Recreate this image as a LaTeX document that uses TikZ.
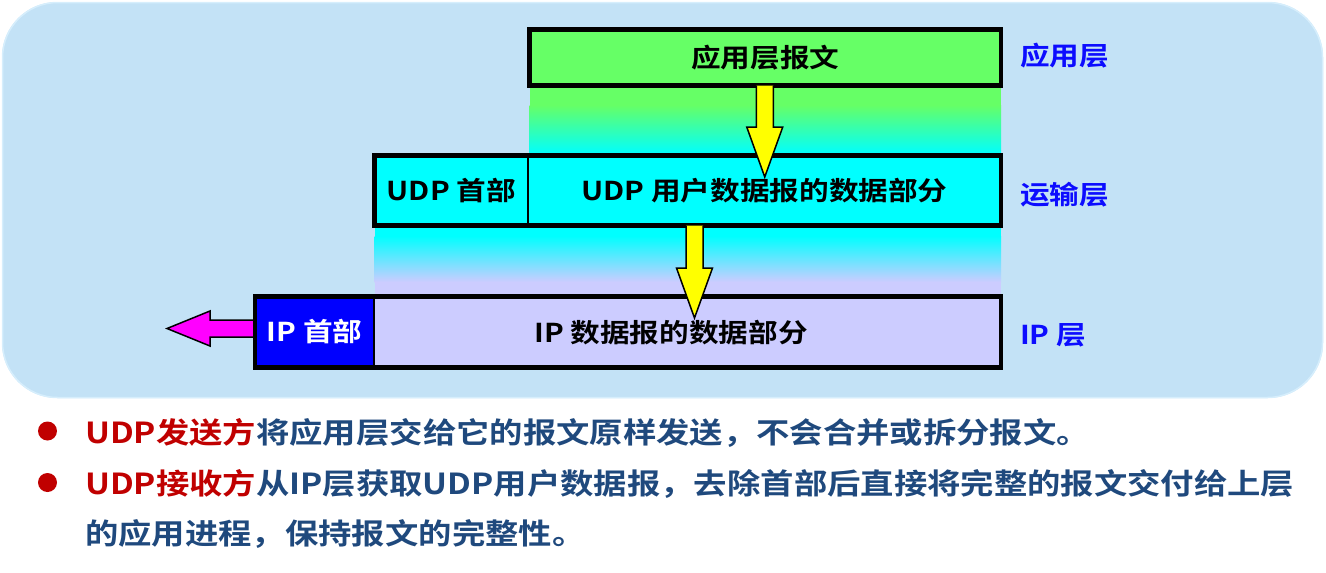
\documentclass[tikz,border=0pt]{standalone}
\usepackage{fontspec}
\usetikzlibrary{calc}
\newfontfamily\boxfont{Noto Sans CJK SC Bold}[FakeStretch=1.14]
\newfontfamily\notefont{Noto Sans CJK SC Bold}[FakeStretch=1.15]

\definecolor{bgblue}{RGB}{195,226,246}
\definecolor{bgedge}{RGB}{214,238,252}
\definecolor{appgreen}{RGB}{102,255,102}
\definecolor{udpcyan}{RGB}{0,255,255}
\definecolor{iplav}{RGB}{204,204,255}
\definecolor{iphblue}{RGB}{0,0,255}
\definecolor{layerblue}{RGB}{12,12,255}
\definecolor{notered}{RGB}{192,0,0}
\definecolor{noteblue}{RGB}{31,73,125}
\definecolor{arrowyellow}{RGB}{255,255,0}
\definecolor{arrowmagenta}{RGB}{255,0,255}

% solid arrow pointing down: #1 top of shaft, #2 tip, #3 fill
\newcommand\fatdown[3]{%
  \draw[fatarrow, fill=#3]
    ($(#1)+(-8.5,0)$) -- ($(#2)+(-8.5,-50)$) -- ($(#2)+(-18,-50)$) -- (#2)
    -- ($(#2)+(18,-50)$) -- ($(#2)+(8.5,-50)$) -- ($(#1)+(8.5,0)$);}

\begin{document}
\begin{tikzpicture}[x=1pt,y=-1pt,
  box/.style={draw=black, line width=1.8, inner sep=0, outer sep=0,
    font=\boxfont\fontsize{26}{30}\selectfont},
  frame/.style={draw=black, line width=4.5},
  layer/.style={anchor=west, inner sep=0, text=layerblue,
    font=\boxfont\fontsize{26}{30}\selectfont},
  note/.style={anchor=west, inner sep=0, text=noteblue,
    font=\notefont\fontsize{29}{33}\selectfont},
  bullet/.style={circle, fill=notered, inner sep=0, minimum size=19},
  fatarrow/.style={draw=black, line width=1.5, line join=miter}]
\useasboundingbox (0,0) rectangle (1326,573);

% background panel
\fill[bgblue, rounded corners=55] (2,2) rectangle (1323,398);
\draw[bgedge, line width=1.5, rounded corners=55] (2.5,2.5) rectangle (1322.5,397.5);

% colour bands between the layers
\fill[appgreen] (529.5,87) rectangle (1001,105);
\shade[top color=appgreen, bottom color=udpcyan] (529.5,105) rectangle (1001,154);
\fill[udpcyan] (374.5,227) rectangle (1001,236);
\shade[top color=udpcyan, bottom color=iplav] (374.5,236) rectangle (1001,282);
\fill[iplav] (374.5,282) rectangle (1001,295);

% application layer
\node[box, line width=4.5, fill=appgreen, minimum width=471.5, minimum height=56]
  (app) at (765.25,57.5) {应用层报文};

% transport layer
\node[box, fill=udpcyan, minimum width=153.5, minimum height=70]
  (udph) at (451.25,190.5) {UDP 首部};
\node[box, fill=udpcyan, minimum width=473, minimum height=70]
  (udpd) at (764.5,190.5) {UDP 用户数据报的数据部分};
\draw[frame] (udph.north west) rectangle (udpd.south east);

% network layer
\coordinate (mtip) at (167,328.5);
\coordinate (mstart) at (255,328.5);
\draw[fatarrow, fill=arrowmagenta]
  ($(mstart)+(0,-8.5)$) -- ($(mtip)+(43,-8.5)$) -- ($(mtip)+(43,-17.5)$) -- (mtip)
  -- ($(mtip)+(43,17.5)$) -- ($(mtip)+(43,8.5)$) -- ($(mstart)+(0,8.5)$);
\node[box, fill=iphblue, text=white, minimum width=119, minimum height=71]
  (iph) at (314.5,332) {IP 首部};
\node[box, fill=iplav, minimum width=627, minimum height=71]
  (ipd) at (687.5,332) {};
\node[inner sep=0, font=\boxfont\fontsize{26}{30}\selectfont]
  (ipdtext) at (671,333) {IP 数据报的数据部分};
\draw[frame] (iph.north west) rectangle (ipd.south east);

% encapsulation arrows
\coordinate (a1top) at ($(app.south)+(-0.5,0)$);
\coordinate (a1tip) at (764.75,177);
\fatdown{a1top}{a1tip}{arrowyellow}
\coordinate (a2top) at ($(udpd.south)+(-70,0)$);
\coordinate (a2tip) at (694.5,318);
\fatdown{a2top}{a2tip}{arrowyellow}

% layer names
\node[layer] (lapp) at (1020,56) {应用层};
\node[layer] (ltrans) at (1020,194.5) {运输层};
\node[layer] (lip) at (1020,335.5) {IP 层};

% notes
\node[bullet] (b1) at (47.5,431) {};
\node[note] (n1) at (85,432.5)
  {\textcolor{notered}{UDP发送方}将应用层交给它的报文原样发送，不会合并或拆分报文。};
\node[bullet] (b2) at (47.5,482.5) {};
\node[note] (n2) at (85,484)
  {\textcolor{notered}{UDP接收方}从IP层获取UDP用户数据报，去除首部后直接将完整的报文交付给上层};
\node[note] (n3) at (85,534)
  {的应用进程，保持报文的完整性。};
\end{tikzpicture}
\end{document}
